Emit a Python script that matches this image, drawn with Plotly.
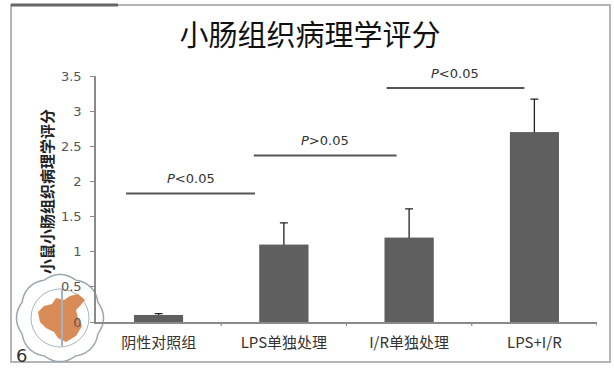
import numpy as np
import plotly.graph_objects as go

# Data
groups = ["阴性对照组", "LPS单独处理", "I/R单独处理", "LPS+I/R"]
scores = [0.10, 1.10, 1.20, 2.70]
score_err = [0.02, 0.31, 0.41, 0.47]

# Significance brackets: (x start, x end, height, label)
sig_x0 = [-0.26, 0.76, 1.82]
sig_x1 = [0.77, 1.90, 2.92]
sig_y = [1.83, 2.37, 3.33]
sig_text = ["<i>P</i>&lt;0.05", "<i>P</i>&gt;0.05", "<i>P</i>&lt;0.05"]

y_ticks = [0, 0.5, 1, 1.5, 2, 2.5, 3, 3.5]
y_tick_text = ["0", "0.5", "1", "1.5", "2", "2.5", "3", "3.5"]

CJK = "Noto Sans CJK SC"
BAR = "#5f5f5f"

# Plot-area geometry in pixels, used to place decorations in paper units
PL, PR, PT, PB = 96, 597, 76, 322
PW, PH = PR - PL, PB - PT


def px(xp):
    return (xp - PL) / PW


def py(yp):
    return (PB - yp) / PH


xpos = list(range(len(groups)))
fig = go.Figure()
# Bars with upward error bars, then the same bars again on top to hide the lower half
fig.add_trace(go.Bar(
    x=xpos, y=scores, width=0.39,
    marker=dict(color=BAR, line=dict(width=0)),
    error_y=dict(type="data", array=score_err, color="#222222", thickness=1.3, width=4),
))
fig.add_trace(go.Bar(
    x=xpos, y=scores, width=0.39,
    marker=dict(color=BAR, line=dict(width=0)), hoverinfo="skip",
))

shapes = []
annotations = []
for x0, x1, y, t in zip(sig_x0, sig_x1, sig_y, sig_text):
    shapes.append(dict(type="line", xref="x", yref="y", x0=x0, x1=x1, y0=y, y1=y,
                       line=dict(color="#555555", width=2)))
    annotations.append(dict(x=(x0 + x1) / 2, y=y, xref="x", yref="y",
                            text=t, showarrow=False, yanchor="bottom", yshift=5,
                            font=dict(family="DejaVu Sans", size=13, color="#333333")))

# Outer frame of the slide panel
shapes.append(dict(type="rect", xref="paper", yref="paper", layer="below",
                   x0=px(11), x1=px(610), y0=py(362), y1=py(5),
                   line=dict(color="#b5b5b5", width=2)))
shapes.append(dict(type="line", xref="paper", yref="paper",
                   x0=px(11), x1=px(118), y0=py(5), y1=py(5),
                   line=dict(color="#666666", width=3)))

# Emblem in the lower-left corner: scalloped ring, inner ring, map and staff
cx, cy = 60, 318
theta = np.linspace(0, 2 * np.pi, 161)
rad = 41 + 2.5 * np.abs(np.cos(4 * theta))
ex = cx + rad * np.cos(theta)
ey = cy + rad * np.sin(theta)
outline = "M " + " L ".join(f"{px(a):.5f},{py(b):.5f}" for a, b in zip(ex, ey)) + " Z"
shapes.append(dict(type="path", xref="paper", yref="paper", layer="below", path=outline,
                   line=dict(color="#9aa6b0", width=1.5), fillcolor="rgba(255,255,255,0)"))
shapes.append(dict(type="circle", xref="paper", yref="paper", layer="below",
                   x0=px(cx - 29), x1=px(cx + 29), y0=py(cy + 29), y1=py(cy - 29),
                   line=dict(color="#a8b3bc", width=1)))
map_pts = [(38, 312), (44, 306), (52, 304), (56, 298), (64, 300), (70, 296), (78, 294),
           (85, 300), (80, 306), (76, 310), (78, 318), (82, 326), (76, 336), (66, 342),
           (58, 338), (54, 332), (46, 328), (40, 322)]
map_path = "M " + " L ".join(f"{px(a):.5f},{py(b):.5f}" for a, b in map_pts) + " Z"
shapes.append(dict(type="path", xref="paper", yref="paper", layer="below", path=map_path,
                   fillcolor="rgba(214,128,70,0.9)", line=dict(width=0)))
shapes.append(dict(type="line", xref="paper", yref="paper", layer="below",
                   x0=px(62), x1=px(62), y0=py(290), y1=py(346),
                   line=dict(color="#9fb3c4", width=2)))

annotations.append(dict(xref="paper", yref="paper", x=px(46), y=py(192),
                        text="<b>小鼠小肠组织病理学评分</b>", textangle=-90, showarrow=False,
                        xanchor="center", yanchor="middle",
                        font=dict(family=CJK, size=15, color="#222222")))
annotations.append(dict(xref="paper", yref="paper", x=px(14), y=py(355),
                        text="6", showarrow=False, xanchor="left", yanchor="middle",
                        font=dict(family="DejaVu Sans", size=18, color="#333333")))

fig.update_layout(
    width=614, height=370,
    margin=dict(l=PL, r=614 - PR, t=PT, b=370 - PB),
    paper_bgcolor="white", plot_bgcolor="white",
    showlegend=False, barmode="overlay",
    title=dict(text="小肠组织病理学评分", x=310 / 614, xref="container", xanchor="center",
               y=1 - 36 / 370, yref="container", yanchor="middle",
               font=dict(family=CJK, size=29, color="#111111")),
    shapes=shapes,
    annotations=annotations,
    xaxis=dict(
        tickmode="array", tickvals=xpos, ticktext=groups,
        range=[-0.5, 3.5], showgrid=False, zeroline=False,
        showline=True, linecolor="#8a8a8a", linewidth=1.5,
        ticks="", ticklabelstandoff=6,
        tickfont=dict(family=CJK, size=15, color="#333333"),
    ),
    yaxis=dict(
        range=[0, 3.5], tickvals=y_ticks, ticktext=y_tick_text,
        showgrid=False, zeroline=False,
        showline=True, linecolor="#8a8a8a", linewidth=1.5,
        ticks="outside", ticklen=4, tickcolor="#8a8a8a", ticklabelstandoff=6,
        tickfont=dict(family="DejaVu Sans", size=13, color="#555555"),
    ),
)

# Category boundary ticks along the x axis
for b in [0.5, 1.5, 2.5, 3.5]:
    fig.add_shape(type="line", xref="x", yref="paper", x0=b, x1=b, y0=0, y1=-4 / PH,
                  line=dict(color="#8a8a8a", width=1.2))

fig.write_html("out.html")
